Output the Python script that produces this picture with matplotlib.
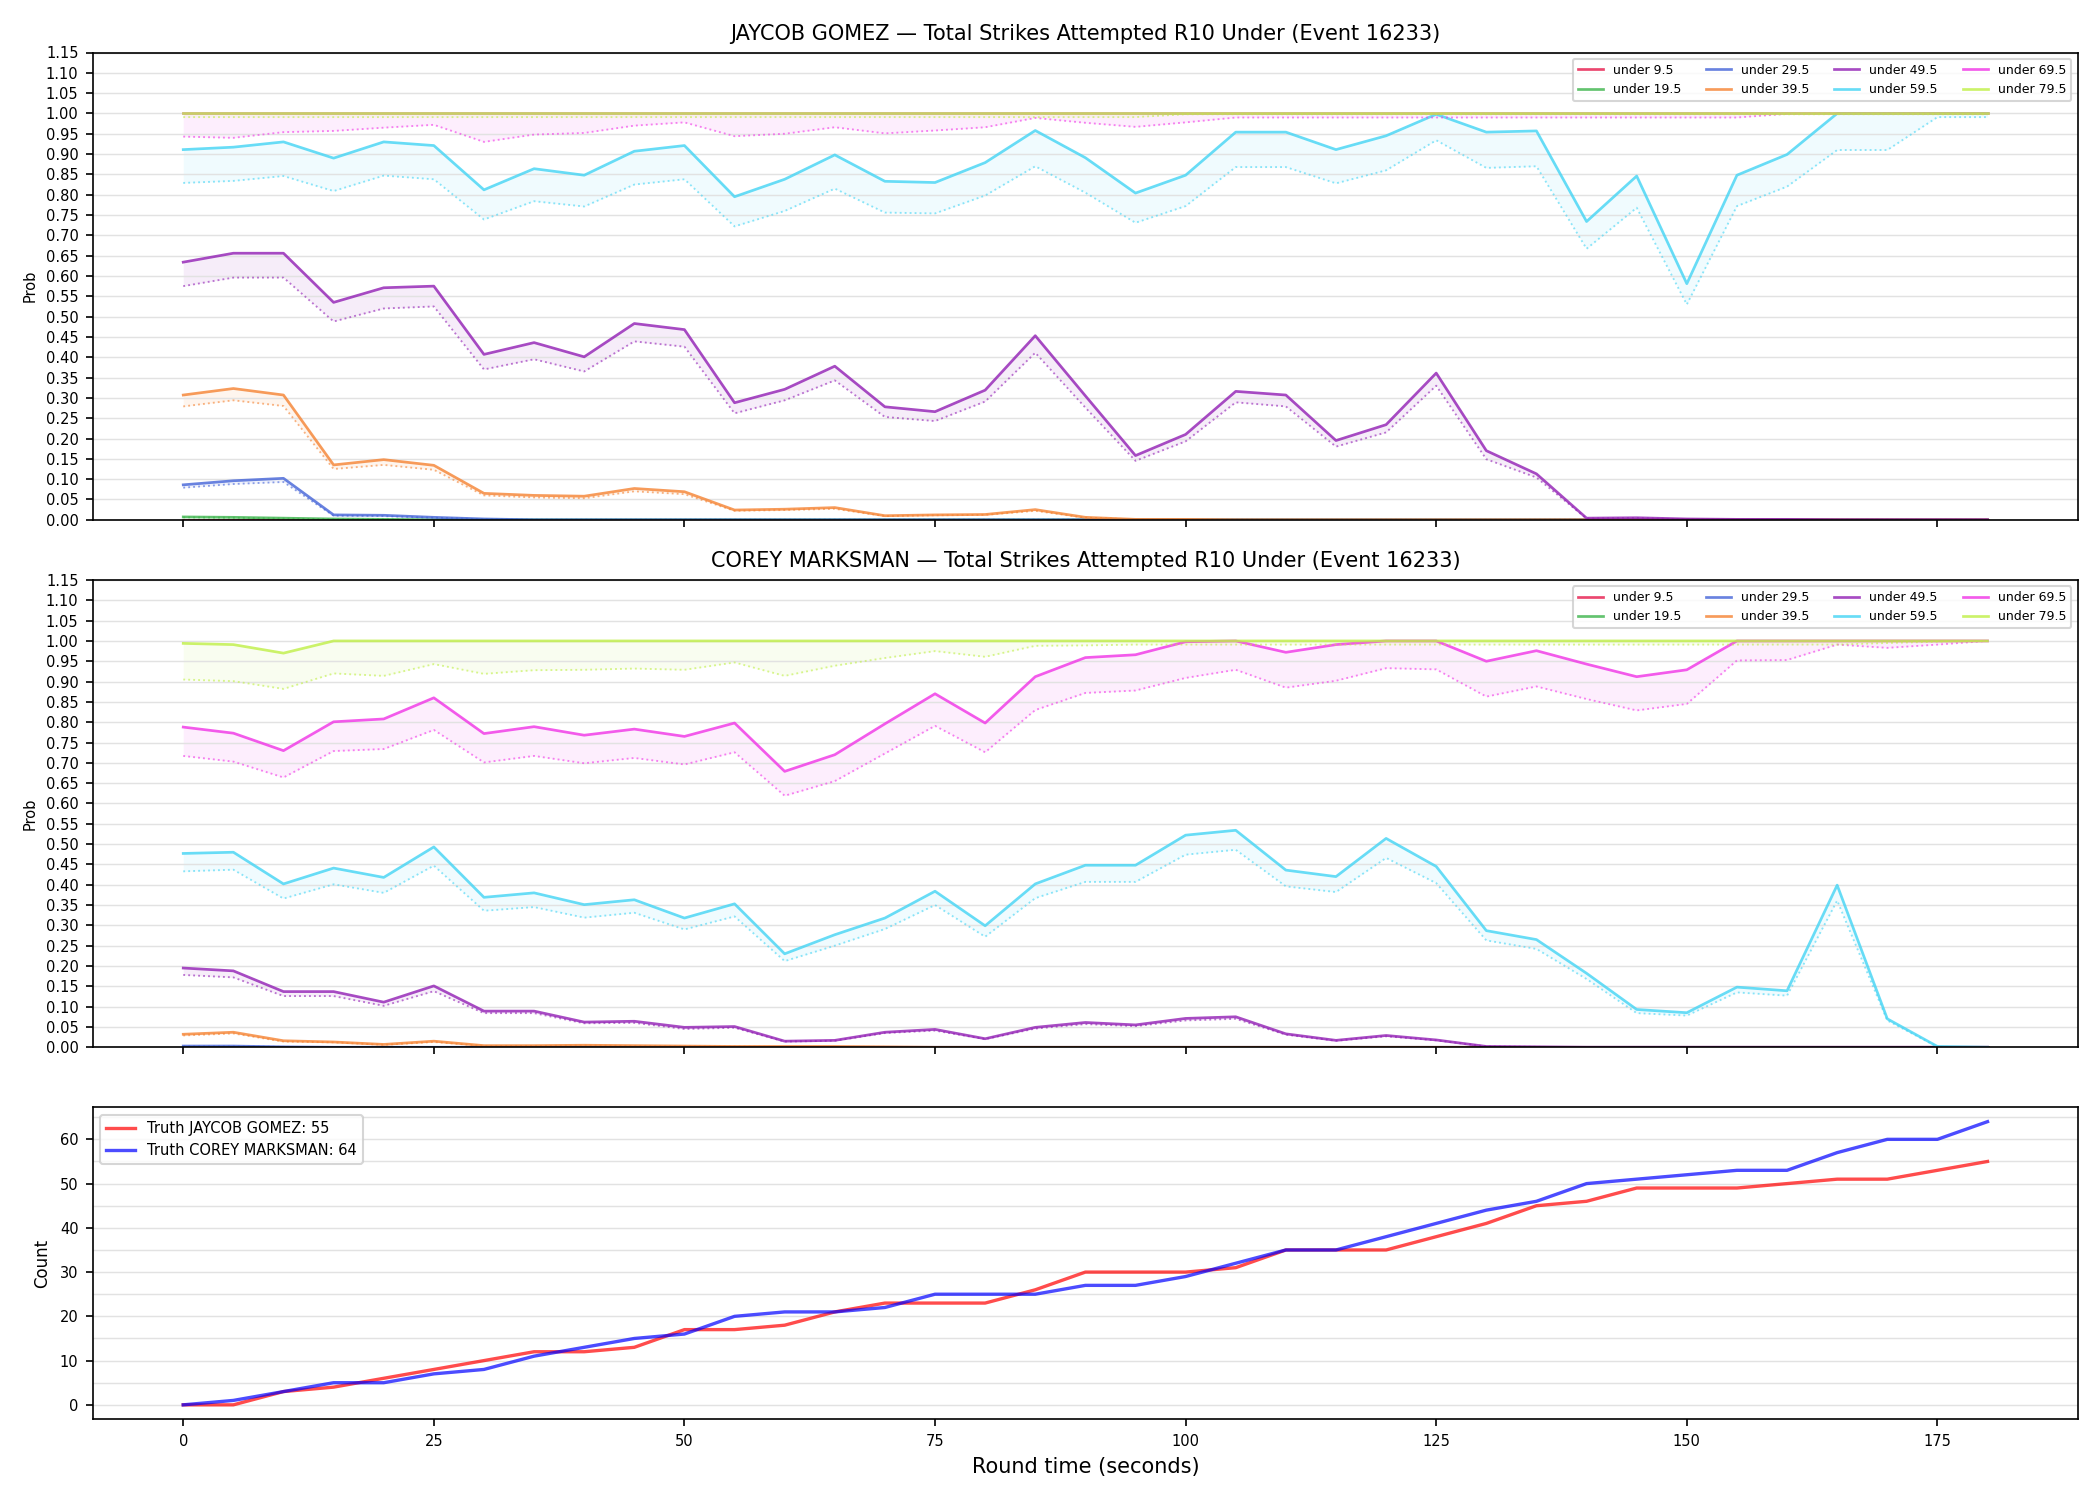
import numpy as np
import matplotlib
matplotlib.use("Agg")
import matplotlib.pyplot as plt
from matplotlib.ticker import MultipleLocator

# --- data ---
t = list(range(0, 181, 5))

labels = ["under 9.5", "under 19.5", "under 29.5", "under 39.5",
          "under 49.5", "under 59.5", "under 69.5", "under 79.5"]
colors = ["#e6194b", "#3cb44b", "#4363d8", "#f58231",
          "#911eb4", "#42d4f4", "#f032e6", "#bfef45"]

# JAYCOB GOMEZ: solid = model prob, dotted = lower band
g_u9 = [0.0] * 37
g_u9_lo = [0.0] * 37
g_u19 = [0.007, 0.006, 0.004, 0.002, 0.001] + [0.0] * 32
g_u19_lo = [0.006, 0.005, 0.003, 0.001, 0.001] + [0.0] * 32
g_u29 = [0.086, 0.096, 0.102, 0.012, 0.011, 0.006, 0.002] + [0.0] * 30
g_u29_lo = [0.079, 0.088, 0.093, 0.010, 0.009, 0.005, 0.001] + [0.0] * 30
g_u39 = [0.307, 0.323, 0.307, 0.135, 0.148, 0.134, 0.065, 0.060, 0.058, 0.077,
         0.069, 0.024, 0.026, 0.030, 0.010, 0.012, 0.013, 0.025, 0.006, 0.001,
         0.001] + [0.0] * 16
g_u39_lo = [0.279, 0.294, 0.280, 0.125, 0.135, 0.123, 0.060, 0.055, 0.053, 0.070,
            0.063, 0.022, 0.024, 0.027, 0.009, 0.011, 0.012, 0.022, 0.005, 0.001,
            0.001] + [0.0] * 16
g_u49 = [0.634, 0.656, 0.656, 0.535, 0.571, 0.575, 0.407, 0.436, 0.401, 0.483,
         0.468, 0.288, 0.321, 0.378, 0.278, 0.266, 0.319, 0.453, 0.305, 0.158,
         0.210, 0.316, 0.307, 0.195, 0.234, 0.361, 0.170, 0.113, 0.004, 0.005,
         0.002, 0.001, 0.001, 0.0, 0.0, 0.0, 0.0]
g_u49_lo = [0.575, 0.596, 0.596, 0.488, 0.520, 0.525, 0.370, 0.395, 0.365, 0.439,
            0.426, 0.262, 0.294, 0.343, 0.253, 0.243, 0.291, 0.411, 0.276, 0.145,
            0.193, 0.289, 0.279, 0.180, 0.215, 0.330, 0.149, 0.104, 0.003, 0.004,
            0.001, 0.0, 0.0, 0.0, 0.0, 0.0, 0.0]
g_u59 = [0.911, 0.917, 0.930, 0.890, 0.930, 0.921, 0.812, 0.864, 0.848, 0.907,
         0.921, 0.795, 0.838, 0.898, 0.833, 0.830, 0.879, 0.958, 0.891, 0.804,
         0.848, 0.954, 0.954, 0.911, 0.945, 0.998, 0.954, 0.957, 0.734, 0.846,
         0.581, 0.848, 0.899, 1.0, 1.0, 1.0, 1.0]
g_u59_lo = [0.829, 0.834, 0.846, 0.809, 0.847, 0.838, 0.739, 0.784, 0.771, 0.825,
            0.838, 0.722, 0.760, 0.815, 0.756, 0.754, 0.798, 0.870, 0.805, 0.731,
            0.772, 0.868, 0.868, 0.828, 0.860, 0.934, 0.866, 0.870, 0.667, 0.768,
            0.530, 0.772, 0.820, 0.910, 0.910, 0.991, 0.991]
g_u69 = [1.0] * 37
g_u69_lo = [0.943, 0.940, 0.954, 0.957, 0.965, 0.972, 0.930, 0.948, 0.952, 0.970,
            0.978, 0.944, 0.950, 0.966, 0.951, 0.958, 0.966, 0.989, 0.977, 0.967,
            0.978, 0.990, 0.990, 0.990, 0.990, 0.990, 0.990, 0.990, 0.990, 0.990,
            0.990, 0.990, 0.999, 1.0, 1.0, 1.0, 1.0]
g_u79 = [1.0] * 37
g_u79_lo = [0.991] * 20 + [0.998] * 17

# COREY MARKSMAN
c_u9 = [0.0] * 37
c_u9_lo = [0.0] * 37
c_u19 = [0.0] * 37
c_u19_lo = [0.0] * 37
c_u29 = [0.003, 0.003, 0.001] + [0.0] * 34
c_u29_lo = [0.002, 0.002, 0.001] + [0.0] * 34
c_u39 = [0.032, 0.037, 0.016, 0.013, 0.007, 0.015, 0.004, 0.004, 0.005, 0.004,
         0.003, 0.002, 0.002, 0.002, 0.001] + [0.0] * 22
c_u39_lo = [0.029, 0.034, 0.014, 0.012, 0.006, 0.013, 0.003, 0.003, 0.004, 0.003,
            0.002, 0.002, 0.001, 0.001, 0.001] + [0.0] * 22
c_u49 = [0.195, 0.188, 0.137, 0.137, 0.111, 0.151, 0.089, 0.089, 0.062, 0.064,
         0.049, 0.051, 0.015, 0.017, 0.037, 0.044, 0.021, 0.049, 0.061, 0.055,
         0.071, 0.075, 0.033, 0.017, 0.029, 0.018, 0.002, 0.001] + [0.0] * 9
c_u49_lo = [0.178, 0.172, 0.126, 0.126, 0.102, 0.138, 0.084, 0.084, 0.059, 0.060,
            0.045, 0.048, 0.014, 0.016, 0.035, 0.041, 0.020, 0.046, 0.057, 0.052,
            0.066, 0.070, 0.031, 0.016, 0.027, 0.017, 0.002, 0.001] + [0.0] * 9
c_u59 = [0.477, 0.480, 0.402, 0.441, 0.418, 0.493, 0.369, 0.380, 0.351, 0.363,
         0.318, 0.353, 0.230, 0.277, 0.318, 0.384, 0.299, 0.402, 0.448, 0.448,
         0.522, 0.534, 0.436, 0.420, 0.514, 0.445, 0.287, 0.265, 0.182, 0.093,
         0.085, 0.148, 0.139, 0.399, 0.070, 0.002, 0.0]
c_u59_lo = [0.433, 0.437, 0.366, 0.401, 0.380, 0.447, 0.336, 0.345, 0.319, 0.331,
            0.290, 0.322, 0.212, 0.250, 0.291, 0.350, 0.272, 0.367, 0.407, 0.407,
            0.474, 0.486, 0.396, 0.382, 0.466, 0.404, 0.263, 0.242, 0.168, 0.084,
            0.078, 0.135, 0.127, 0.361, 0.066, 0.001, 0.0]
c_u69 = [0.788, 0.773, 0.730, 0.801, 0.808, 0.860, 0.772, 0.789, 0.768, 0.783,
         0.765, 0.798, 0.679, 0.720, 0.796, 0.870, 0.798, 0.912, 0.959, 0.966,
         0.998, 1.0, 0.972, 0.991, 1.0, 1.0, 0.950, 0.976, 0.943, 0.912,
         0.929, 1.0, 1.0, 1.0, 1.0, 1.0, 1.0]
c_u69_lo = [0.717, 0.703, 0.664, 0.729, 0.734, 0.781, 0.701, 0.717, 0.699, 0.712,
            0.696, 0.726, 0.619, 0.655, 0.723, 0.791, 0.726, 0.830, 0.872, 0.878,
            0.909, 0.929, 0.885, 0.902, 0.933, 0.930, 0.863, 0.888, 0.857, 0.829,
            0.845, 0.952, 0.953, 0.991, 0.983, 0.991, 1.0]
c_u79 = [0.994, 0.991, 0.970] + [1.0] * 34
c_u79_lo = [0.905, 0.901, 0.882, 0.920, 0.914, 0.943, 0.919, 0.928, 0.929, 0.932,
            0.929, 0.947, 0.914, 0.939, 0.958, 0.975, 0.961, 0.988, 0.989, 0.991,
            0.991, 0.991, 0.991, 0.991, 0.991, 0.991, 0.991, 0.991, 0.991, 0.991,
            0.991, 0.991, 0.991, 0.991, 0.995, 0.998, 1.0]

# running truth counts
truth_gomez = [0, 0, 3, 4, 6, 8, 10, 12, 12, 13, 17, 17, 18, 21, 23, 23, 23, 26, 30, 30,
               30, 31, 35, 35, 35, 38, 41, 45, 46, 49, 49, 49, 50, 51, 51, 53, 55]
truth_marksman = [0, 1, 3, 5, 5, 7, 8, 11, 13, 15, 16, 20, 21, 21, 22, 25, 25, 25, 27, 27,
                  29, 32, 35, 35, 38, 41, 44, 46, 50, 51, 52, 53, 53, 57, 60, 60, 64]

gomez_lines = [(g_u9, g_u9_lo), (g_u19, g_u19_lo), (g_u29, g_u29_lo), (g_u39, g_u39_lo),
               (g_u49, g_u49_lo), (g_u59, g_u59_lo), (g_u69, g_u69_lo), (g_u79, g_u79_lo)]
marksman_lines = [(c_u9, c_u9_lo), (c_u19, c_u19_lo), (c_u29, c_u29_lo), (c_u39, c_u39_lo),
                  (c_u49, c_u49_lo), (c_u59, c_u59_lo), (c_u69, c_u69_lo), (c_u79, c_u79_lo)]

# --- figure ---
fig = plt.figure(figsize=(14, 10), dpi=150)
gs = fig.add_gridspec(3, 1, height_ratios=[3, 3, 2], hspace=0.145,
                      left=0.0443, right=0.9894, top=0.965, bottom=0.054)
ax1 = fig.add_subplot(gs[0])
ax2 = fig.add_subplot(gs[1], sharex=ax1)
ax3 = fig.add_subplot(gs[2], sharex=ax1)


def prob_panel(ax, lines, name):
    for (hi, lo), lab, col in zip(lines, labels, colors):
        ax.plot(t, hi, color=col, lw=1.3, alpha=0.8, label=lab)
        ax.plot(t, lo, color=col, lw=0.9, alpha=0.6, ls=":")
        ax.fill_between(t, lo, hi, color=col, alpha=0.08, lw=0)
    ax.set_ylim(0, 1.15)
    ax.set_yticks(np.arange(0, 1.1501, 0.05))
    ax.set_ylabel("Prob", fontsize=7)
    ax.set_title(f"{name} \u2014 Total Strikes Attempted R10 Under (Event 16233)", fontsize=10)
    ax.grid(True, axis="y", color="#e2e2e2", lw=0.7)
    ax.tick_params(labelsize=7)
    ax.tick_params(labelbottom=False)
    ax.legend(loc="upper right", ncol=4, fontsize=6)


prob_panel(ax1, gomez_lines, "JAYCOB GOMEZ")
prob_panel(ax2, marksman_lines, "COREY MARKSMAN")

ax3.plot(t, truth_gomez, color="red", lw=1.6, alpha=0.7, label="Truth JAYCOB GOMEZ: 55")
ax3.plot(t, truth_marksman, color="blue", lw=1.6, alpha=0.7, label="Truth COREY MARKSMAN: 64")
ax3.set_ylabel("Count", fontsize=8)
ax3.set_xlabel("Round time (seconds)", fontsize=10)
ax3.yaxis.set_minor_locator(MultipleLocator(5))
ax3.grid(True, axis="y", which="both", color="#e2e2e2", lw=0.7)
ax3.tick_params(axis="y", which="minor", length=0)
ax3.tick_params(labelsize=7)
ax3.legend(loc="upper left", fontsize=7)
ax3.set_xticks([0, 25, 50, 75, 100, 125, 150, 175])

fig.savefig("out.png", dpi=150)
